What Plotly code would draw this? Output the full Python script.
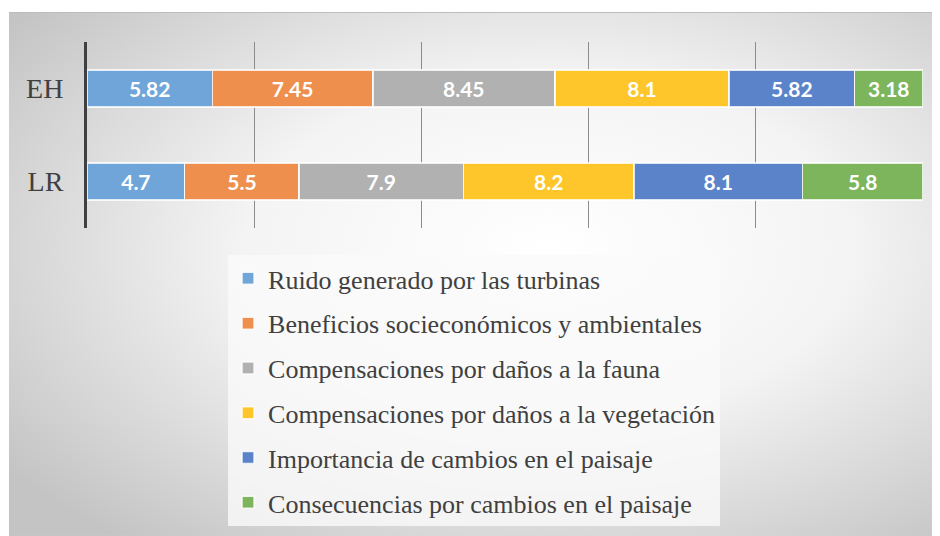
import base64
import plotly.graph_objects as go

# categories (top to bottom) and each series' values
categories = ["EH", "LR"]
series_names = [
    "Ruido generado por las turbinas",
    "Beneficios socieconómicos y ambientales",
    "Compensaciones por daños a la fauna",
    "Compensaciones por daños a la vegetación",
    "Importancia de cambios en el paisaje",
    "Consecuencias por cambios en el paisaje",
]
ruido = [5.82, 4.7]
beneficios = [7.45, 5.5]
fauna = [8.45, 7.9]
vegetacion = [8.1, 8.2]
importancia = [5.82, 8.1]
consecuencias = [3.18, 5.8]

series_values = [ruido, beneficios, fauna, vegetacion, importancia, consecuencias]
colors = ["#6fa5d8", "#ef8f4e", "#b1b1b1", "#fec62b", "#5b83c9", "#7db55d"]

fig = go.Figure()

for name, vals, col in zip(series_names, series_values, colors):
    fig.add_trace(
        go.Bar(
            y=categories,
            x=vals,
            orientation="h",
            name=name,
            legendgroup=name,
            marker=dict(color=col, line=dict(color="rgba(255,255,255,0.8)", width=1.5)),
            text=[str(v) for v in vals],
            textposition="inside",
            insidetextanchor="middle",
            textangle=0,
            textfont=dict(family="Lato", size=21, color="white", weight="bold"),
            hoverinfo="x+y+name",
        )
    )

# radial gradient background panel
svg = (
    '<svg xmlns="http://www.w3.org/2000/svg" width="931" height="524" '
    'preserveAspectRatio="none" viewBox="0 0 931 524">'
    '<defs><radialGradient id="g" cx="58%" cy="45%" r="72%">'
    '<stop offset="0" stop-color="#ffffff"/>'
    '<stop offset="0.45" stop-color="#f4f4f4"/>'
    '<stop offset="1" stop-color="#c4c4c4"/>'
    '</radialGradient></defs>'
    '<rect x="0" y="0" width="931" height="524" fill="url(#g)"/>'
    '<line x1="0" y1="0.5" x2="931" y2="0.5" stroke="#bdbdbd" stroke-width="1"/>'
    '</svg>'
)
src = "data:image/svg+xml;base64," + base64.b64encode(svg.encode()).decode()

fig.update_layout(
    width=932,
    height=528,
    barmode="stack",
    barnorm="percent",
    bargap=0.6,
    paper_bgcolor="white",
    plot_bgcolor="rgba(0,0,0,0)",
    margin=dict(l=79, r=17, t=34, b=308, autoexpand=False),
    showlegend=True,
    legend=dict(
        x=0.1687,
        y=-0.145,
        xanchor="left",
        yanchor="top",
        bgcolor="rgba(250,250,250,0.8)",
        font=dict(family="Liberation Serif", size=26, color="#404040"),
        traceorder="grouped",
        tracegroupgap=8,
        itemwidth=30,
        maxheight=1,
    ),
    images=[
        dict(
            source=src,
            xref="paper",
            yref="paper",
            x=-0.0933,
            y=1.1613,
            sizex=1.1136,
            sizey=2.817,
            sizing="stretch",
            xanchor="left",
            yanchor="top",
            layer="below",
        )
    ],
    xaxis=dict(
        range=[0, 100],
        dtick=20,
        showticklabels=False,
        showgrid=True,
        gridcolor="#8c8c8c",
        gridwidth=1,
        zeroline=False,
        fixedrange=True,
    ),
    yaxis=dict(
        autorange="reversed",
        showline=True,
        linecolor="#404040",
        linewidth=3,
        showgrid=False,
        ticks="outside",
        ticklen=15,
        tickcolor="rgba(0,0,0,0)",
        tickfont=dict(family="Liberation Serif", size=28, color="#404040"),
    ),
)

fig.write_html("out.html")
